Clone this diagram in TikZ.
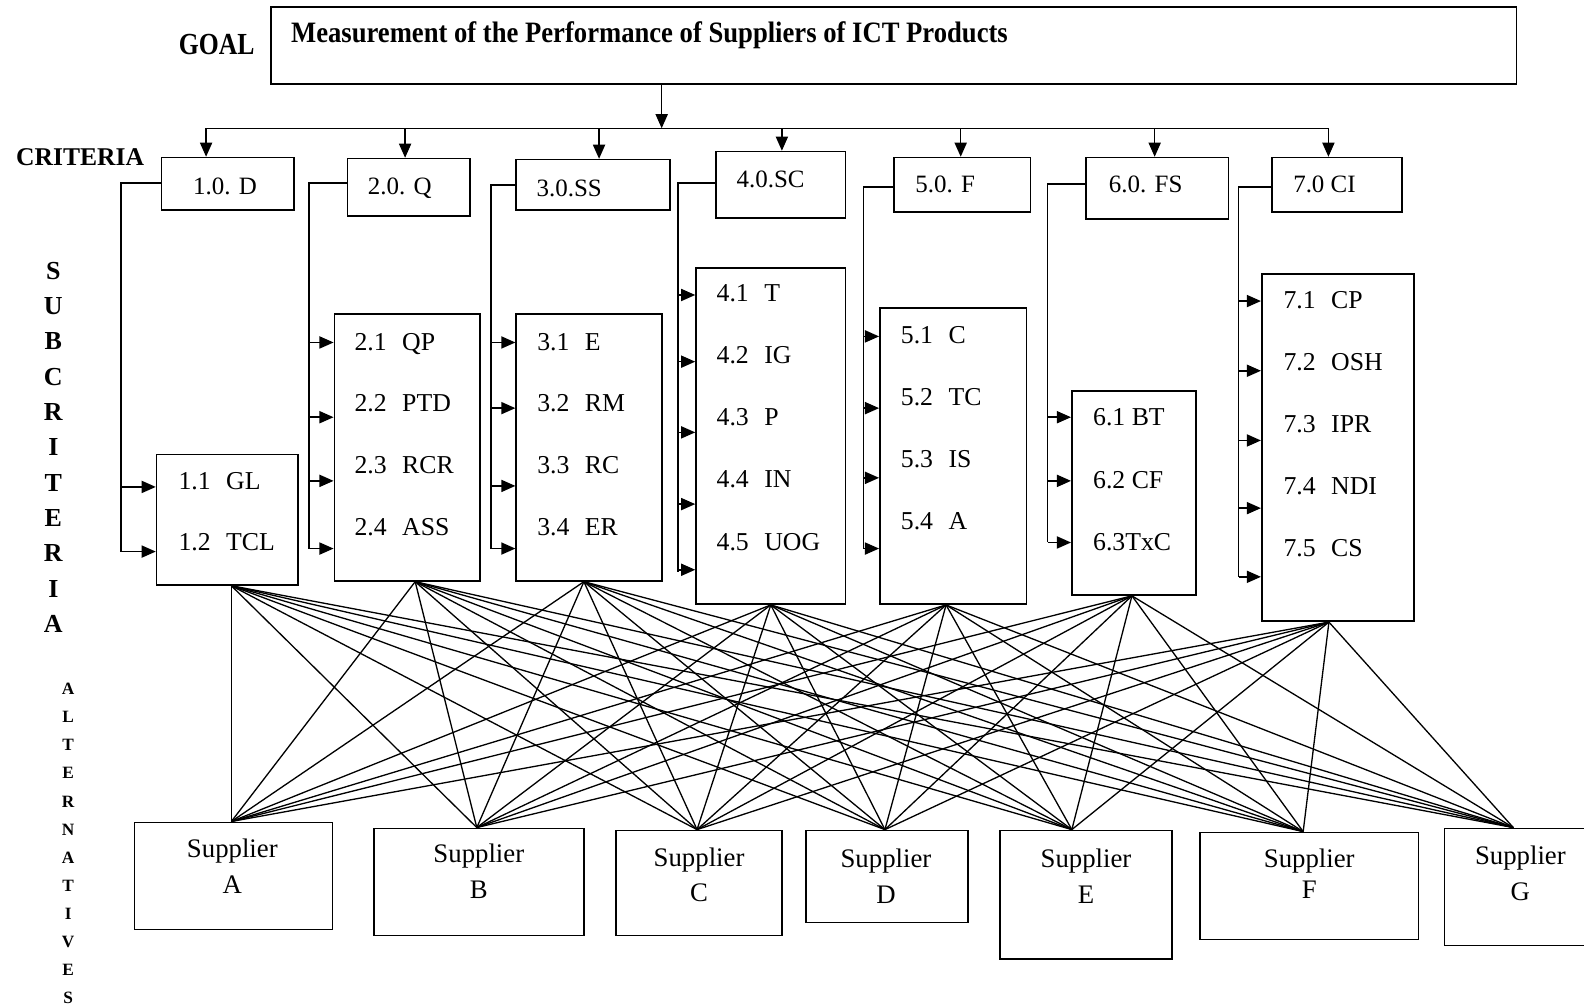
\documentclass[tikz,border=0pt]{standalone}
\usepackage{fontspec}
\setmainfont{Liberation Serif}
\usetikzlibrary{arrows.meta,fit}
\begin{document}
\begin{tikzpicture}[x=1pt,y=-1pt,
  bx/.style={draw, line width=1.6pt, inner sep=0pt},
  arr/.style={line width=1.5pt, -{Triangle[length=14pt,width=12pt]}},
  ln/.style={line width=1.5pt},
  link/.style={line width=1.3pt},
  subt/.style={font=\fontsize{25.5}{30}\selectfont, inner sep=0pt, anchor=base west},
  critt/.style={font=\fontsize{24.7}{30}\selectfont, inner sep=0pt, anchor=base west},
  supt/.style={font=\fontsize{26.5}{35}\selectfont, align=center, inner sep=0pt},
]
\useasboundingbox (0,0) rectangle (1568,997);

% side labels
\node[anchor=base west, inner sep=0pt, font=\bfseries\fontsize{30.3}{32}\selectfont] (goallab) at (176.8,53.5) {\scalebox{0.84}[1]{GOAL}};
\node[anchor=base west, inner sep=0pt, font=\bfseries\fontsize{25.3}{30}\selectfont] (critlab) at (15.8,164) {CRITERIA};
\node[align=center, inner sep=0pt, font=\bfseries\fontsize{25.7}{35}\selectfont] (sublab) at (52.8,442.8) {S\\U\\B\\C\\R\\I\\T\\E\\R\\I\\A};
\node[align=center, inner sep=0pt, font=\bfseries\fontsize{17.1}{27.8}\selectfont] (altlab) at (67.5,835) {A\\L\\T\\E\\R\\N\\A\\T\\I\\V\\E\\S};

% goal
\node[bx, fit={(268,7) (1501,83)}] (goal) {};
\node[anchor=base west, inner sep=0pt, font=\bfseries\fontsize{29.3}{32}\selectfont] (title) at (288,41.9) {\scalebox{0.9}[1]{Measurement of the Performance of Suppliers of ICT Products}};

% criteria boxes
\node[bx, fit={(160,156) (291,208)}] (c1) {};
\node[bx, fit={(344,157) (465,214)}] (c2) {};
\node[bx, fit={(511,158) (663,208)}] (c3) {};
\node[bx, fit={(709,150) (837,216)}] (c4) {};
\node[bx, fit={(885,156) (1020,210)}] (c5) {};
\node[bx, fit={(1075,156) (1216,217)}] (c6) {};
\node[bx, fit={(1259,156) (1388,210)}] (c7) {};
\node[critt] (c1t) at (191,193) {1.0. D};
\node[critt] (c2t) at (364,193) {2.0. Q};
\node[critt] (c3t) at (531,194.7) {3.0.SS};
\node[critt] (c4t) at (729,186) {4.0.SC};
\node[critt] (c5t) at (906,190.7) {5.0. F};
\node[critt] (c6t) at (1097.5,190.7) {6.0. FS};
\node[critt] (c7t) at (1280,190.7) {7.0 CI};

% goal to criteria
\coordinate (hub) at (655,127);
\coordinate (busL) at (204,127);
\coordinate (busR) at (1315,127);
\draw[arr] (goal.south -| hub) -- (hub);
\draw[ln] (busL) -- (busR);
\foreach \n/\x in {1/204,2/401,3/593,4/774,5/951,6/1143,7/1315}
  \draw[arr] (\x,127) -- (c\n.north -| \x,0);

% subcriteria boxes
\node[bx, fit={(155,450) (295,579)}] (s1) {};
\node[bx, fit={(331,311) (475,575)}] (s2) {};
\node[bx, fit={(511,311) (655,575)}] (s3) {};
\node[bx, fit={(689,265) (837,598)}] (s4) {};
\node[bx, fit={(871,305) (1016,598)}] (s5) {};
\node[bx, fit={(1061,387) (1184,589)}] (s6) {};
\node[bx, fit={(1249,271) (1400,615)}] (s7) {};

\node[subt] at (176.5,484.4) {1.1\hspace{0.6em}GL};
\node[subt] at (176.5,545.4) {1.2\hspace{0.6em}TCL};

\node[subt] at (350.8,346.5) {2.1\hspace{0.6em}QP};
\node[subt] at (350.8,407.5) {2.2\hspace{0.6em}PTD};
\node[subt] at (350.8,468.6) {2.3\hspace{0.6em}RCR};
\node[subt] at (350.8,529.6) {2.4\hspace{0.6em}ASS};

\node[subt] at (531.7,346.5) {3.1\hspace{0.6em}E};
\node[subt] at (531.7,407.5) {3.2\hspace{0.6em}RM};
\node[subt] at (531.7,468.6) {3.3\hspace{0.6em}RC};
\node[subt] at (531.7,529.6) {3.4\hspace{0.6em}ER};

\node[subt] at (709.2,298.6) {4.1\hspace{0.6em}T};
\node[subt] at (709.2,360.3) {4.2\hspace{0.6em}IG};
\node[subt] at (709.2,421.4) {4.3\hspace{0.6em}P};
\node[subt] at (709.2,482.4) {4.4\hspace{0.6em}IN};
\node[subt] at (709.2,544.5) {4.5\hspace{0.6em}UOG};

\node[subt] at (891.6,339.9) {5.1\hspace{0.6em}C};
\node[subt] at (891.6,401.6) {5.2\hspace{0.6em}TC};
\node[subt] at (891.6,463) {5.3\hspace{0.6em}IS};
\node[subt] at (891.6,524) {5.4\hspace{0.6em}A};

\node[subt] at (1081.9,421.4) {6.1 BT};
\node[subt] at (1081.9,483.4) {6.2 CF};
\node[subt] at (1081.9,544.5) {6.3TxC};

\node[subt] at (1270.4,305.2) {7.1\hspace{0.6em}CP};
\node[subt] at (1270.4,366.9) {7.2\hspace{0.6em}OSH};
\node[subt] at (1270.4,428) {7.3\hspace{0.6em}IPR};
\node[subt] at (1270.4,489.3) {7.4\hspace{0.6em}NDI};
\node[subt] at (1270.4,550.4) {7.5\hspace{0.6em}CS};

% brackets criteria -> subcriteria
\draw[ln] (c1.west |- 0,181) -- (120,181) -- (120,546);
\foreach \y in {482,546} \draw[arr] (120,\y) -- (s1.west |- 0,\y);
\draw[ln] (c2.west |- 0,181) -- (306,181) -- (306,543);
\foreach \y in {339,413,476,543} \draw[arr] (306,\y) -- (s2.west |- 0,\y);
\draw[ln] (c3.west |- 0,183) -- (486,183) -- (486,543);
\foreach \y in {339,404,481,543} \draw[arr] (486,\y) -- (s3.west |- 0,\y);
\draw[ln] (c4.west |- 0,181) -- (671,181) -- (671,566);
\foreach \y in {292,358,428,499,564} \draw[arr] (671,\y) -- (s4.west |- 0,\y);
\draw[ln] (c5.west |- 0,185) -- (855,185) -- (855,543);
\foreach \y in {333,404,473,543} \draw[arr] (855,\y) -- (s5.west |- 0,\y);
\draw[ln] (c6.west |- 0,182) -- (1037,182) -- (1037,537);
\foreach \y in {413,476,537} \draw[arr] (1037,\y) -- (s6.west |- 0,\y);
\draw[ln] (c7.west |- 0,185) -- (1226,185) -- (1226,571);
\foreach \y in {298,367,436,503,571} \draw[arr] (1226,\y) -- (s7.west |- 0,\y);

% suppliers
\node[bx, fit={(133,814) (329,920)}] (sA) {};
\node[bx, fit={(370,820) (578,926)}] (sB) {};
\node[bx, fit={(610,822) (774,926)}] (sC) {};
\node[bx, fit={(798,822) (958,913)}] (sD) {};
\node[bx, fit={(990,822) (1160,949)}] (sE) {};
\node[bx, fit={(1188,824) (1404,930)}] (sF) {};
\node[bx, fit={(1430,820) (1572,936)}] (sG) {};
\node[supt] at (230,857.5) {Supplier\\A};
\node[supt] at (474,862.3) {Supplier\\B};
\node[supt] at (692,866.3) {Supplier\\C};
\node[supt] at (877,867.5) {Supplier\\D};
\node[supt] at (1075,867.5) {Supplier\\E};
\node[supt, font=\fontsize{26.5}{31}\selectfont] at (1296,865) {Supplier\\F};
\node[supt] at (1505,864.4) {Supplier\\G};

% connection points
\coordinate (b1) at ([xshift=4pt]s1.south);
\coordinate (b2) at ([xshift=8pt]s2.south);
\coordinate (b3) at ([xshift=-5pt]s3.south);
\coordinate (b4) at (s4.south);
\coordinate (b5) at ([xshift=-7pt]s5.south);
\coordinate (b6) at ([xshift=-2pt]s6.south);
\coordinate (b7) at ([xshift=-9pt]s7.south);
\coordinate (tA) at ([xshift=-2pt]sA.north);
\coordinate (tB) at ([xshift=-2pt]sB.north);
\coordinate (tC) at ([xshift=-2pt]sC.north);
\coordinate (tD) at ([xshift=-2pt]sD.north);
\coordinate (tE) at ([xshift=-14pt]sE.north);
\coordinate (tF) at ([xshift=-6pt]sF.north);
\coordinate (tG) at ([xshift=-3pt]sG.north);
\foreach \b in {1,...,7}
  \foreach \t in {A,B,C,D,E,F,G}
    \draw[link] (b\b) -- (t\t);
\end{tikzpicture}
\end{document}
